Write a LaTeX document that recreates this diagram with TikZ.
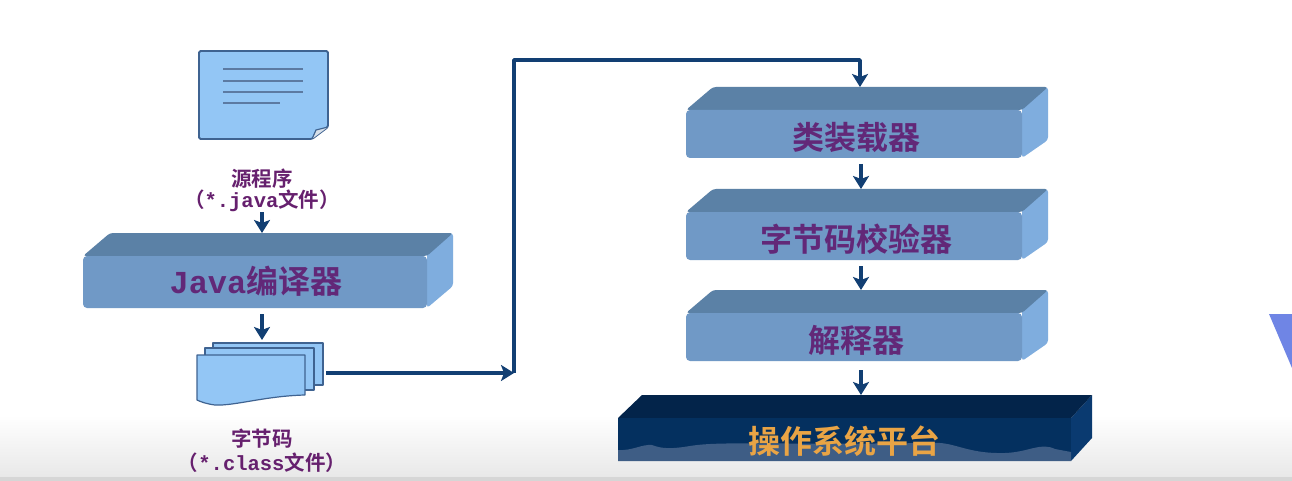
\documentclass[tikz,border=0pt]{standalone}
\usepackage{fontspec}
\setmainfont{Noto Sans CJK SC}[BoldFont={Noto Sans CJK SC Bold}]
\newfontfamily\latinmono{Liberation Mono}
\usetikzlibrary{arrows.meta,calc}
\definecolor{barfront}{HTML}{7099C6}
\definecolor{bartop}{HTML}{5B81A6}
\definecolor{barside}{HTML}{7FADDE}
\definecolor{barink}{HTML}{622878}
\definecolor{captionink}{HTML}{66206E}
\definecolor{linkblue}{HTML}{123F73}
\definecolor{sheetfill}{HTML}{93C6F5}
\definecolor{sheetedge}{HTML}{3F6391}
\definecolor{osfront}{HTML}{04305F}
\definecolor{ostop}{HTML}{03244A}
\definecolor{osside}{HTML}{0A3A70}
\definecolor{oswave}{HTML}{3E5D85}
\definecolor{osink}{HTML}{E9A445}
\definecolor{wedge}{HTML}{6F85E5}
\tikzset{
  x=1pt,y=-1pt,
  link/.style={draw=linkblue,line width=3.6pt,-{Stealth[length=13pt,width=16pt,inset=3pt]}},
  plainlink/.style={draw=linkblue,line width=3.6pt,line join=round},
  sheet/.style={fill=sheetfill,draw=sheetedge,line width=1.8pt,line join=round},
  sheetline/.style={draw=sheetedge!85!white,line width=1.3pt},
  caption/.style={inner sep=0pt,font=\bfseries\fontsize{20.5}{20.5}\selectfont,text=captionink,anchor=center},
  barlabel/.style={inner sep=0pt,font=\bfseries\fontsize{32}{32}\selectfont,text=barink,anchor=center},
  boxarea/.style={inner sep=0pt,outer sep=0pt,anchor=north west},
}
% #1 name, #2 left, #3 back-top y, #4 width of whole, #5 height of whole, #6 label y, #7 label x, #8 label
\newcommand{\blockbar}[8]{%
  \node[boxarea,minimum width=#4pt,minimum height=#5pt] (#1) at (#2,#3) {};
  \fill[barside,rounded corners=3pt] ($(#1.north east)+(-26,2)$) -- (#1.north east) -- ($(#1.north east)+(0,53)$) -- ($(#1.south east)+(-26,0)$) -- cycle;
  \fill[bartop,rounded corners=3pt] ($(#1.north west)+(27,0)$) -- (#1.north east) -- ($(#1.north east)+(-26,23)$) -- ($(#1.north west)+(0,23)$) -- cycle;
  \fill[barfront,rounded corners=4pt] ($(#1.north west)+(0,23)$) -- ($(#1.north east)+(-26,23)$) -- ($(#1.south east)+(-26,0)$) -- (#1.south west) -- cycle;
  \node[barlabel] (#1text) at (#7,#6) {#8};
}
\begin{document}
\begin{tikzpicture}
\useasboundingbox (0,0) rectangle (1292,481);
\fill[white] (0,0) rectangle (1292,481);
\shade[top color=white,bottom color=black!9] (0,415) rectangle (1292,477);
\fill[black!16] (0,477) rectangle (1292,481);
\fill[wedge] (1269,314) -- (1292,314) -- (1292,368) -- cycle;

% source sheet
\node[boxarea,minimum width=129pt,minimum height=88pt] (srcsheet) at (199,51) {};
\draw[sheet,rounded corners=1.5pt] (199,51) -- (328,51) -- (328,127) -- (312,139) -- (199,139) -- cycle;
\fill[white!80!sheetedge] (328,127) -- (316,130) -- (312,139) -- cycle;
\draw[sheetedge,line width=1.2pt] (328,127) -- (316,130) -- (312,139);
\draw[sheetline] (223,69) -- (303,69);
\draw[sheetline] (223,81) -- (303,81);
\draw[sheetline] (223,92) -- (303,92);
\draw[sheetline] (223,103) -- (280,103);

\node[caption] (srcname) at (262,179) {源程序};
\node[caption] (srcext) at (262,201) {（{\latinmono *.java}文件）};

% compiler
\blockbar{javac}{83}{233}{370}{75}{281}{256}{{\latinmono Java}编译器}

% bytecode stack
\node[boxarea,minimum width=126pt,minimum height=62pt] (stack) at (197,343) {};
\draw[sheet,line width=1.2pt] (213,343) -- (323,343) -- (323,385) -- (213,385) -- cycle;
\draw[sheet,line width=1.2pt] (205,348) -- (314,348) -- (314,390) -- (205,390) -- cycle;
\draw[sheet,line width=1.2pt] (197,355) -- (305,355) -- (305,395) .. controls (265,396) and (235,406) .. (215,405) .. controls (207,404) and (201,402) .. (197,400) -- cycle;

\node[caption] (bcname) at (262,439) {字节码};
\node[caption] (bcext) at (262,463) {（{\latinmono *.class}文件）};

% JVM stack
\blockbar{loader}{686}{87}{362}{71}{137}{856}{类装载器}
\blockbar{verifier}{686}{189}{362}{71}{239}{856}{字节码校验器}
\blockbar{interp}{686}{290}{362}{71}{340}{856}{解释器}

% OS platform
\node[boxarea,minimum width=474pt,minimum height=66pt] (osbar) at (618,395) {};
\fill[osside] (1071,418) -- (1092,395) -- (1092,438) -- (1071,461) -- cycle;
\fill[ostop] (642,395) -- (1092,395) -- (1071,418) -- (618,418) -- cycle;
\fill[osfront] (618,418) -- (1071,418) -- (1071,461) -- (618,461) -- cycle;
\fill[oswave] (618,450) .. controls (632,451) and (642,444) .. (652,445) .. controls (662,449) and (672,449) .. (690,446) .. controls (720,441) and (770,445) .. (930,443) .. controls (955,441) and (965,454) .. (1005,453) .. controls (1030,452) and (1040,442) .. (1055,449) -- (1071,452) -- (1071,461) -- (618,461) -- cycle;
\node[barlabel,text=osink] (ostext) at (844,441) {操作系统平台};

% connectors
\coordinate (arrowx) at (262,0);
\coordinate (rightx) at (861,0);
\draw[link] (srcext.south -| arrowx) -- (javac.north -| arrowx);
\draw[link,shorten <=6pt,shorten >=3pt] (javac.south -| arrowx) -- (stack.north -| arrowx);
\coordinate (turn) at (514,373);
\coordinate (entry) at (860,60);
\coordinate (stackout) at (326,373);
\draw[link] (stackout) -- (turn);
\draw[plainlink] (turn) -- (turn |- entry) -- (entry) -- ($(entry)+(0,14)$) coordinate (entrydown);
\draw[link] (entrydown) -- (entrydown |- loader.north);
\draw[link,shorten <=6pt] (loader.south -| rightx) -- (verifier.north -| rightx);
\draw[link,shorten <=6pt] (verifier.south -| rightx) -- (interp.north -| rightx);
\draw[link,shorten <=9pt] (interp.south -| rightx) -- (osbar.north -| rightx);
\end{tikzpicture}
\end{document}
